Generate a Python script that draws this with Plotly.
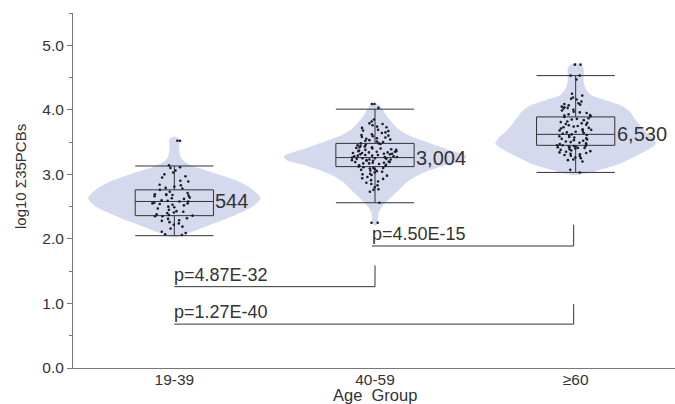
import plotly.graph_objects as go

# ---------------- data ----------------
groups = ["19-39", "40-59", "≥60"]
counts = [544, 3004, 6530]

# box statistics (log10 Σ35PCBs)
q1 = [2.36, 3.12, 3.45]
median = [2.58, 3.26, 3.62]
q3 = [2.76, 3.48, 3.89]
lower = [2.05, 2.56, 3.03]
upper = [3.13, 4.01, 4.53]

# sampled points shown on top of each group
pts_1939 = [3.52, 3.52, 3.14, 3.11, 3.10, 3.06, 3.03, 3.00, 2.97, 2.95, 2.90, 2.89,
            2.84, 2.83, 2.81, 2.79, 2.78, 2.76, 2.73, 2.71, 2.69, 2.69, 2.68, 2.68,
            2.67, 2.66, 2.64, 2.63, 2.62, 2.60, 2.59, 2.58, 2.58, 2.56, 2.55, 2.55,
            2.54, 2.53, 2.52, 2.50, 2.49, 2.47, 2.45, 2.43, 2.42, 2.41, 2.40, 2.38,
            2.37, 2.36, 2.35, 2.35, 2.32, 2.31, 2.29, 2.28, 2.26, 2.24, 2.22, 2.19,
            2.16, 2.11, 2.09, 2.07, 2.06]
pts_4059 = [4.09, 4.09, 4.03, 3.85, 3.82, 3.79, 3.78, 3.76, 3.74, 3.73, 3.72, 3.69,
            3.68, 3.67, 3.65, 3.64, 3.62, 3.61, 3.60, 3.59, 3.58, 3.57, 3.56, 3.55,
            3.54, 3.53, 3.52, 3.51, 3.50, 3.48, 3.48, 3.47, 3.46, 3.45, 3.44, 3.43,
            3.42, 3.42, 3.41, 3.40, 3.40, 3.39, 3.38, 3.38, 3.37, 3.36, 3.36, 3.35,
            3.35, 3.34, 3.34, 3.33, 3.33, 3.32, 3.32, 3.31, 3.31, 3.30, 3.30, 3.29,
            3.29, 3.28, 3.28, 3.27, 3.27, 3.26, 3.26, 3.25, 3.25, 3.24, 3.24, 3.23,
            3.23, 3.22, 3.22, 3.21, 3.21, 3.20, 3.19, 3.19, 3.18, 3.18, 3.17, 3.17,
            3.16, 3.15, 3.14, 3.13, 3.12, 3.11, 3.10, 3.10, 3.09, 3.08, 3.07, 3.06,
            3.05, 3.04, 3.03, 3.01, 3.00, 2.99, 2.98, 2.96, 2.94, 2.93, 2.91, 2.89,
            2.87, 2.85, 2.83, 2.80, 2.77, 2.76, 2.73, 2.56, 2.25, 2.25]
pts_60 = [4.70, 4.70, 4.53, 4.53, 4.47, 4.25, 4.22, 4.19, 4.17, 4.16, 4.13, 4.10,
          4.09, 4.08, 4.07, 4.05, 4.04, 4.03, 4.02, 4.00, 3.99, 3.97, 3.96, 3.95,
          3.93, 3.92, 3.91, 3.90, 3.89, 3.87, 3.86, 3.85, 3.84, 3.82, 3.81, 3.80,
          3.79, 3.78, 3.77, 3.76, 3.75, 3.74, 3.73, 3.72, 3.71, 3.70, 3.69, 3.68,
          3.67, 3.66, 3.65, 3.64, 3.63, 3.62, 3.61, 3.60, 3.59, 3.58, 3.57, 3.56,
          3.55, 3.54, 3.53, 3.52, 3.51, 3.50, 3.49, 3.48, 3.47, 3.46, 3.45, 3.45,
          3.44, 3.44, 3.43, 3.43, 3.42, 3.42, 3.41, 3.41, 3.40, 3.39, 3.38, 3.37,
          3.36, 3.35, 3.34, 3.33, 3.32, 3.31, 3.30, 3.29, 3.28, 3.26, 3.25, 3.23,
          3.22, 3.20, 3.07, 3.03]
points = [pts_1939, pts_4059, pts_60]

# violin outlines: levels and half-widths (in category units)
vio_y_1939 = [2.02, 2.04, 2.11, 2.22, 2.32, 2.42, 2.50, 2.58, 2.63, 2.68, 2.79, 2.89,
              2.99, 3.06, 3.12, 3.18, 3.25, 3.35, 3.46, 3.53, 3.57, 3.59]
vio_w_1939 = [0, .03, .09, .18, .265, .34, .39, .42, .43, .42, .38, .32,
              .23, .16, .10, .06, .035, .025, .025, .025, .015, 0]
vio_y_4059 = [2.20, 2.25, 2.32, 2.42, 2.50, 2.58, 2.66, 2.76, 2.87, 2.97, 3.07, 3.15,
              3.22, 3.28, 3.33, 3.41, 3.51, 3.61, 3.72, 3.82, 3.92, 4.03, 4.08, 4.11]
vio_w_4059 = [0, .015, .015, .02, .035, .06, .085, .12, .155, .205, .28, .36,
              .44, .455, .42, .34, .25, .165, .11, .08, .055, .035, .02, 0]
vio_y_60 = [2.99, 3.05, 3.12, 3.20, 3.30, 3.40, 3.48, 3.56, 3.66, 3.76, 3.86, 3.97,
            4.07, 4.15, 4.22, 4.33, 4.43, 4.53, 4.63, 4.69, 4.73]
vio_w_60 = [0, .10, .18, .245, .31, .37, .40, .385, .35, .32, .295, .27,
            .225, .15, .08, .05, .04, .04, .04, .03, 0]
vio_y = [vio_y_1939, vio_y_4059, vio_y_60]
vio_w = [vio_w_1939, vio_w_4059, vio_w_60]

# pairwise comparisons
p_labels = ["p=1.27E-40", "p=4.87E-32", "p=4.50E-15"]
cmp_start = [0.0, 0.0, 0.985]
cmp_end = [1.99, 1.0, 1.99]
cmp_level = [0.68, 1.26, 1.89]
cmp_top = [0.99, 1.59, 2.22]

# ---------------- figure ----------------
VIOLIN = "#d5d9ed"
INK = "#333333"
AXIS = "#777777"
FONT = "Liberation Sans, Arial, sans-serif"
XR = [-0.505, 2.495]
YR = [0, 5.5]

fig = go.Figure()

# violins on the base axes (drawn first)
for i in range(3):
    ys, ws = vio_y[i], vio_w[i]
    xs = [i + w for w in ws] + [i - w for w in reversed(ws)]
    yy = list(ys) + list(reversed(ys))
    fig.add_trace(go.Scatter(x=xs, y=yy, mode="lines", fill="toself",
                             fillcolor=VIOLIN,
                             line=dict(width=0, color=VIOLIN, shape="spline", smoothing=0.7),
                             hoverinfo="skip", showlegend=False))

# comparison brackets
for k in range(3):
    fig.add_trace(go.Scatter(x=[cmp_start[k], cmp_end[k], cmp_end[k]],
                             y=[cmp_level[k], cmp_level[k], cmp_top[k]],
                             mode="lines", line=dict(color=INK, width=1),
                             hoverinfo="skip", showlegend=False))
    fig.add_annotation(x=cmp_start[k], y=cmp_level[k], text=p_labels[k], showarrow=False,
                       xanchor="left", yanchor="bottom", xshift=-2,
                       font=dict(family=FONT, size=18, color=INK))

# boxes and points on an overlaid axis pair so they sit above the violins
for i in range(3):
    fig.add_trace(go.Box(x=[i], q1=[q1[i]], median=[median[i]], q3=[q3[i]],
                         lowerfence=[lower[i]], upperfence=[upper[i]],
                         width=0.39, whiskerwidth=1, boxpoints=False,
                         fillcolor="rgba(0,0,0,0)", line=dict(color=INK, width=1),
                         xaxis="x2", yaxis="y2", showlegend=False))

for i in range(3):
    fig.add_trace(go.Box(y=points[i], x0=i, width=0.39, boxpoints="all", jitter=0.6,
                         pointpos=0, fillcolor="rgba(0,0,0,0)",
                         line=dict(color="rgba(0,0,0,0)", width=0),
                         marker=dict(color="#1c1c28", size=2.6),
                         xaxis="x2", yaxis="y2", showlegend=False, hoverinfo="y"))

for i in range(3):
    fig.add_annotation(x=i + 0.195, y=median[i], text=f"{counts[i]:,}", showarrow=False,
                       xanchor="left", yanchor="middle",
                       font=dict(family=FONT, size=20, color=INK))

# axis titles placed by pixel position
fig.add_annotation(xref="paper", yref="paper", x=(20 - 73) / (675 - 73),
                   y=(368 - 177) / (368 - 13), text="log10 Σ35PCBs", showarrow=False,
                   textangle=-90, xanchor="center", yanchor="middle",
                   font=dict(family=FONT, size=15, color=INK))
fig.add_annotation(xref="paper", yref="paper", x=(375 - 73) / (675 - 73),
                   y=(368 - 395) / (368 - 13), text="Age  Group", showarrow=False,
                   xanchor="center", yanchor="middle",
                   font=dict(family=FONT, size=16.5, color=INK))

fig.update_layout(
    width=675, height=404,
    margin=dict(l=73, r=0, t=13, b=36),
    paper_bgcolor="white", plot_bgcolor="white",
    boxmode="overlay",
    font=dict(family=FONT, color=INK),
    xaxis=dict(range=XR, tickvals=[0, 1, 2], ticktext=groups,
               showline=True, linecolor=AXIS, linewidth=1, showgrid=False,
               zeroline=False, ticks="", ticklen=0, ticklabelstandoff=-3,
               tickfont=dict(size=15.5, color=INK)),
    yaxis=dict(range=YR, tickvals=[0, 1, 2, 3, 4, 5], tickformat=".1f",
               showline=True, linecolor=AXIS, linewidth=1, showgrid=False,
               zeroline=False, ticks="outside", ticklen=5, tickcolor=AXIS,
               tickfont=dict(size=15.5, color=INK),
               minor=dict(dtick=0.5, ticks="outside", ticklen=3, tickcolor=AXIS)),
    xaxis2=dict(range=XR, overlaying="x", visible=False, showgrid=False, zeroline=False),
    yaxis2=dict(range=YR, overlaying="y", visible=False, showgrid=False, zeroline=False),
)

fig.write_html("out.html")
